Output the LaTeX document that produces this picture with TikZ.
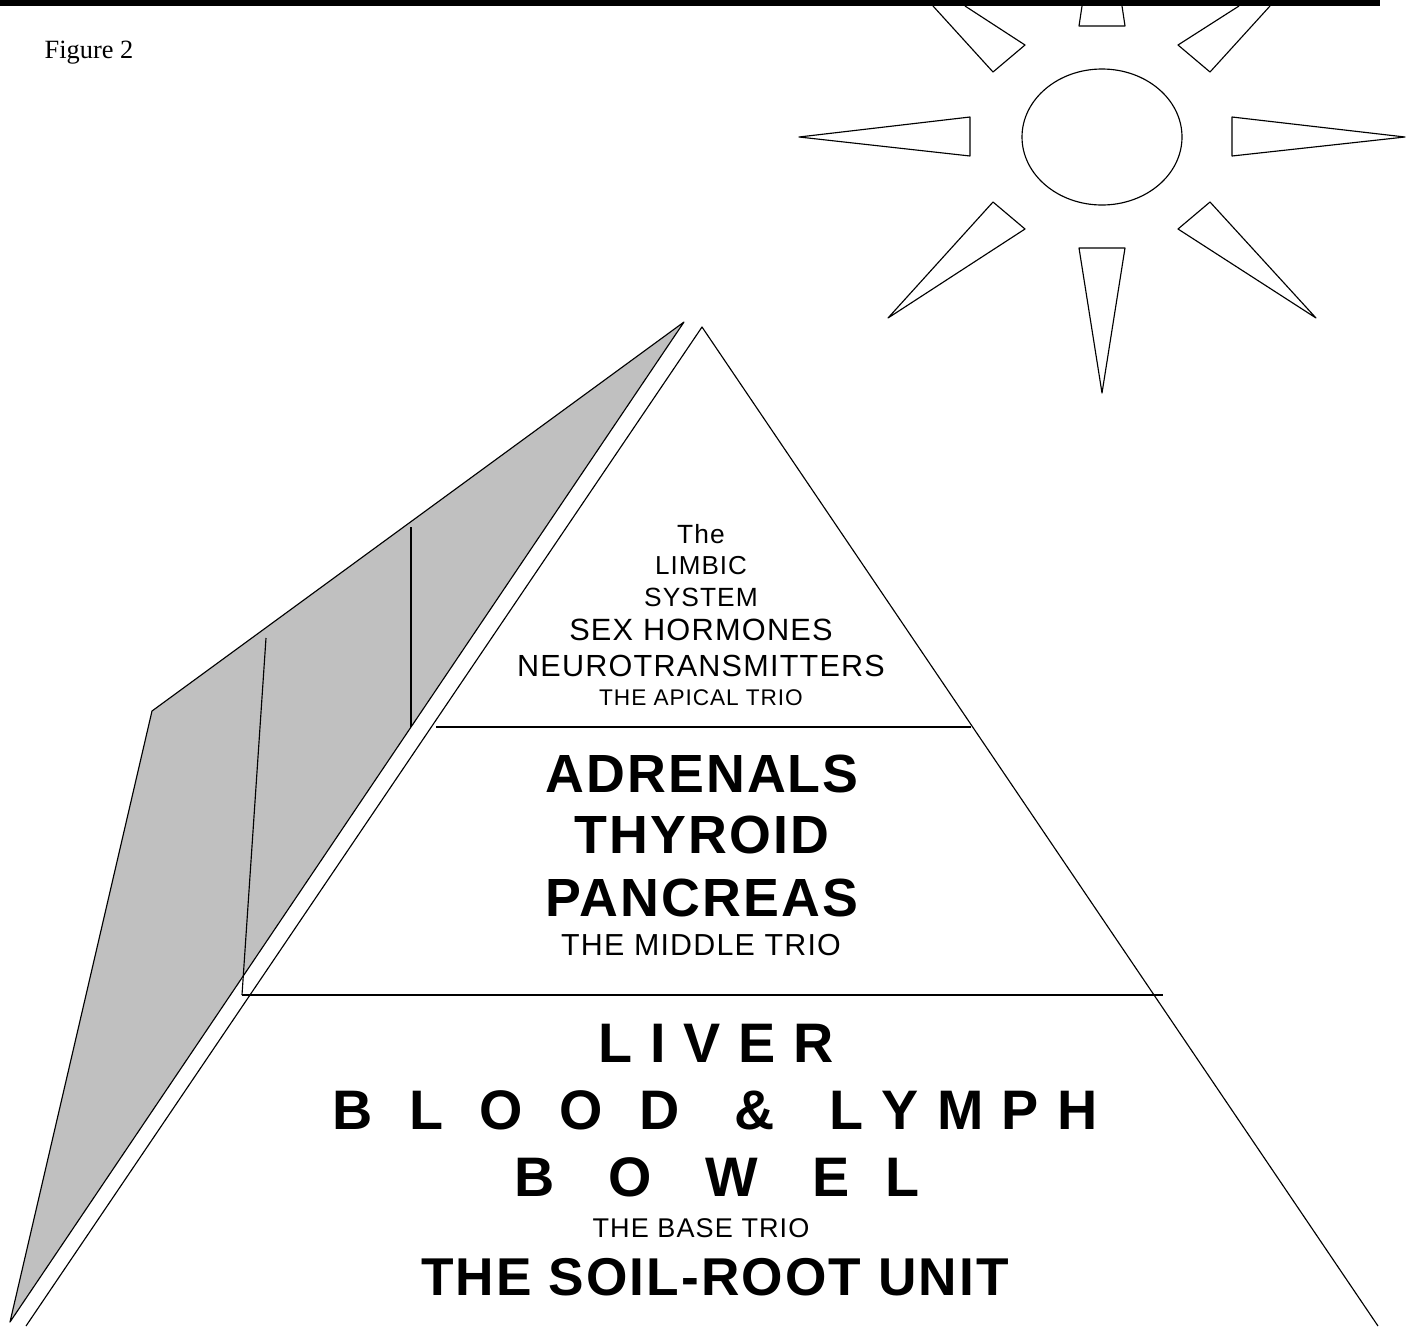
\documentclass[tikz,border=0pt]{standalone}
\usepackage{fontspec}
\setmainfont{Liberation Sans}
\newfontfamily\figfont{Liberation Serif}
\usepackage{tikz}
\definecolor{shadowgray}{gray}{0.753}
\tikzset{
	line/.style={black, line width=0.65pt, line join=round},
	label/.style={anchor=base, inner sep=0pt, align=center}
}
\begin{document}
\begin{tikzpicture}[x=0.02cm, y=-0.02cm]
\useasboundingbox (0,0) rectangle (1416,1326);

\fill [shadowgray] (684,322) -- (152,711) -- (10,1322) -- cycle;
\draw [line] (684,322) -- (152,711) -- (10,1322) -- cycle;
\draw [line] (411,527) -- (411,727);
\draw [line] (266,638) -- (242,995);

\draw [line] (26,1326) -- (702,327) -- (1378,1326);
\draw [line] (436,727) -- (971,727);
\draw [line] (242,995) -- (1163,995);

\draw [line] (1102,137) ellipse [x radius=80, y radius=68];
\foreach \ray in {
		{(970,117) -- (799,137) -- (970,156) -- cycle},
		{(1232,117) -- (1405,137) -- (1232,156) -- cycle},
		{(1079,248) -- (1102,393) -- (1125,248) -- cycle},
		{(993,202) -- (888,318) -- (1025,229) -- cycle},
		{(1210,202) -- (1316,318) -- (1178,229) -- cycle},
		{(1082,6) -- (1079,26) -- (1125,26) -- (1122,6)},
		{(933,6) -- (993,72) -- (1025,45) -- (965,6)},
		{(1270,6) -- (1210,72) -- (1178,45) -- (1239,6)}
	}
	\draw [line] \ray;

\fill [black] (0,0) rectangle (1380,6);

\node [label, font=\figfont\fontsize{15}{18}\selectfont] at (89,58) (figure) {Figure 2};

\foreach \y/\size/\name/\txt in {
		543/15/the/The,
		574/14.8/limbic/LIMBIC,
		606/15/system/SYSTEM,
		640/17.5/sexhormones/SEX HORMONES,
		676/17.4/neuro/NEUROTRANSMITTERS,
		705/12.9/apical/THE APICAL TRIO,
		955/17.3/middle/THE MIDDLE TRIO,
		1237/15.4/base/THE BASE TRIO}
	\node [label, font=\addfontfeature{LetterSpace=4}\fontsize{\size}{\size}\selectfont] at (701,\y) (\name) {\txt};

\foreach \x/\y/\size/\track/\name/\txt in {
		702/792/30.6/4/adrenals/ADRENALS,
		702/853/30.6/4/thyroid/THYROID,
		702/916/30.6/4/pancreas/PANCREAS,
		716/1062/31.7/4/liver/L I V E R,
		715/1129/31.7/5/blood/B~~L~~O~~O~~D~~~\&~~~L Y M P H,
		717/1196/31.7/4.5/bowel/B~~~O~~~W~~~E~~L,
		715/1295/30.3/4/soil/THE SOIL-ROOT UNIT}
	\node [label, font=\bfseries\addfontfeature{LetterSpace=\track}\fontsize{\size}{\size}\selectfont] at (\x,\y) (\name) {\txt};

\end{tikzpicture}
\end{document}
